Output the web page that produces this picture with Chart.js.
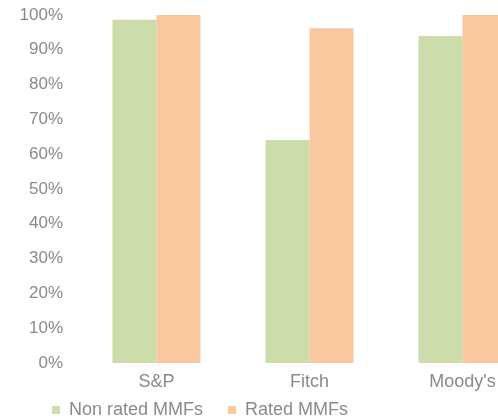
<!DOCTYPE html>
<html>
<head>
<meta charset="utf-8">
<script src="https://cdn.jsdelivr.net/npm/chart.js@4/dist/chart.umd.min.js"></script>
<style>
  html, body { margin: 0; padding: 0; background: #ffffff; overflow: hidden; }
  #wrap { position: absolute; left: 0; top: 0; width: 540px; height: 447px; }
</style>
</head>
<body>
<div id="wrap"><canvas id="c"></canvas></div>
<script>
const categories = ["S&P", "Fitch", "Moody's"];
const nonRatedMMFs = [98.6, 64.1, 94.0];
const ratedMMFs = [100, 96.2, 100];
const yTicks = [0, 10, 20, 30, 40, 50, 60, 70, 80, 90, 100];
const seriesNames = ["Non rated MMFs", "Rated MMFs"];

const grey = '#8a8a8a';
const fontFamily = '"Liberation Sans", Arial, sans-serif';

// shifts the legend block (layout only, no data marks)
const legendShift = {
  id: 'legendShift',
  afterLayout(chart) {
    const lg = chart.legend;
    if (!lg) return;
    lg.left += 27; lg.right += 27;
    lg.top -= 17; lg.bottom -= 17;
  }
};

new Chart(document.getElementById('c'), {
  type: 'bar',
  data: {
    labels: categories,
    datasets: [
      { label: seriesNames[0], data: nonRatedMMFs, backgroundColor: '#cddcab', borderWidth: 0 },
      { label: seriesNames[1], data: ratedMMFs, backgroundColor: '#f9c89e', borderWidth: 0 }
    ]
  },
  plugins: [legendShift],
  options: {
    responsive: true,
    maintainAspectRatio: false,
    animation: false,
    devicePixelRatio: 1,
    layout: { padding: { left: 0, right: 1, top: 15, bottom: 1 } },
    datasets: { bar: { categoryPercentage: 0.575, barPercentage: 1.0 } },
    plugins: {
      title: { display: false },
      tooltip: { enabled: false },
      legend: {
        position: 'bottom',
        align: 'start',
        labels: {
          boxWidth: 8,
          boxHeight: 8,
          padding: 25,
          color: grey,
          font: { family: fontFamily, size: 18 }
        }
      }
    },
    scales: {
      x: {
        grid: { display: false, drawTicks: false },
        border: { display: false },
        ticks: { color: grey, padding: 8, font: { family: fontFamily, size: 18 } },
        afterFit: (axis) => { axis.height = 30; }
      },
      y: {
        min: 0,
        max: 100,
        afterBuildTicks: (axis) => { axis.ticks = yTicks.map(v => ({ value: v })); },
        grid: { display: false, drawTicks: false },
        border: { display: false },
        ticks: {
          color: grey,
          padding: 17,
          font: { family: fontFamily, size: 17 },
          callback: (v) => v + '%'
        },
        afterFit: (axis) => { axis.width = 80; axis.paddingTop = 0; axis.paddingBottom = 0; }
      }
    }
  }
});
</script>
</body>
</html>
